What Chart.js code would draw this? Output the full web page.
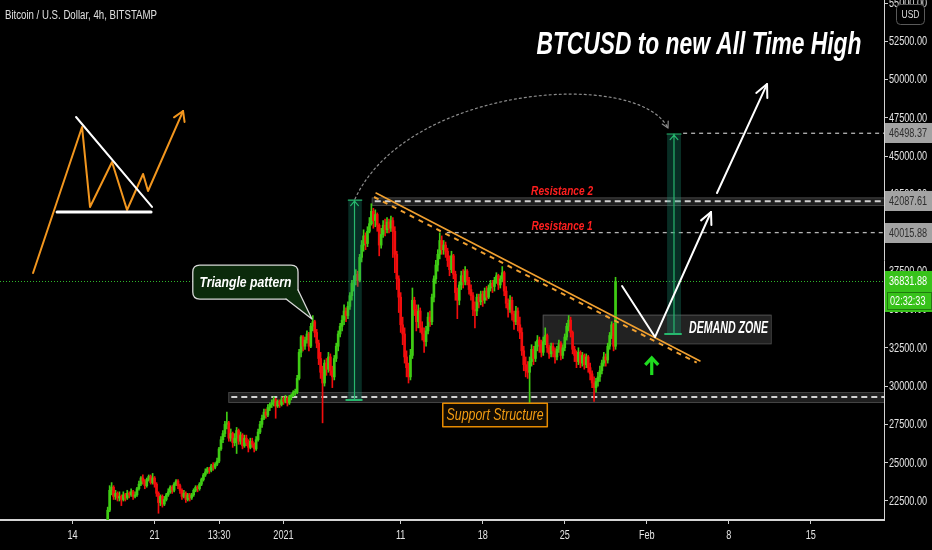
<!DOCTYPE html>
<html><head><meta charset="utf-8">
<script src="https://cdn.jsdelivr.net/npm/chart.js@4/dist/chart.umd.min.js"></script>
<style>html,body{margin:0;padding:0;background:#000;overflow:hidden}#wrap{width:932px;height:550px}</style>
</head><body><div id="wrap"><canvas id="c" width="932" height="550"></canvas></div>
<script>
// ---------- DATA (prices in thousands of USD, 4h candles from 2020-12-17 00:00) ----------
const firstCandleDay = 3;      // days after 2020-12-14 00:00
const candleHours = 4;
const firstOpen = 21.0;
const closeK = [
21.9,23.2,23.4,22.8,23.0,22.7, 22.8,22.6,22.9,22.7,23.0,22.9, 23.1,22.8,22.9,23.3,23.6,24.0,
23.8,23.5,23.9,24.1,23.7,24.0, 23.6,23.0,22.4,22.8,22.3,22.6, 22.9,23.1,23.4,23.2,23.6,23.8,
23.5,23.2,22.8,23.0,22.6,22.9, 22.7,22.9,23.2,23.4,23.3,23.6, 23.9,24.2,24.4,24.6,24.5,24.8,
24.7,24.9,25.1,25.9,26.5,26.9, 27.5,27.6,26.6,26.9,26.3,26.6, 27.1,26.4,26.8,26.1,26.6,26.3,
26.0,26.4,26.2,25.9,26.5,27.0, 27.5,27.9,28.3,28.1,28.6,28.8, 28.9,29.1,28.7,29.0,28.8,29.1,
29.0,29.2,28.9,29.3,29.4,29.6, 29.6,30.5,32.2,33.2,32.6,33.0, 33.4,32.6,33.9,34.2,33.5,32.8,
31.8,30.9,30.2,31.5,31.1,31.9, 31.0,30.6,31.8,32.6,33.4,33.9, 34.3,34.9,34.6,35.2,35.9,36.7,
36.9,37.3,36.9,38.4,39.2,39.8, 39.3,40.1,40.6,41.4,40.8,41.2, 40.5,39.2,39.9,40.5,40.2,40.7,
40.3,40.8,40.1,38.6,37.0,35.8, 34.0,33.4,31.9,31.2,30.6,32.0, 35.6,35.0,34.2,34.9,33.8,33.4,
32.9,33.6,34.5,34.2,35.8,37.0, 37.9,38.6,39.5,38.9,39.2,38.8, 38.2,37.6,38.5,37.3,36.1,35.6,
36.6,37.2,36.8,37.5,36.9,36.3, 35.9,35.0,34.9,35.8,35.5,36.0, 35.6,36.2,35.8,36.4,36.7,36.5,
36.9,37.2,36.6,37.0,37.4,36.2, 35.4,35.0,35.6,34.7,34.2,34.9, 34.0,33.5,32.3,31.4,31.0,30.9,
31.6,32.4,31.8,32.6,33.0,32.7, 32.2,32.9,33.3,32.5,32.1,32.6, 32.3,31.9,32.4,32.8,32.0,32.5,
33.2,33.9,34.3,33.5,32.4,32.0, 31.6,32.2,31.5,32.0,31.4,31.9, 31.2,30.8,30.2,29.9,30.3,30.6,
31.0,31.5,31.9,31.7,32.6,33.3, 34.0,32.6,36.83188];
const highK = [
22.1,23.5,23.7,23.5,23.2,23.1, 23.1,22.9,23.1,23.0,23.2,23.1, 23.3,23.2,23.1,23.4,23.8,24.1,
24.2,23.9,24.0,24.2,24.2,24.3, 24.1,23.7,23.1,22.9,22.9,22.8, 23.0,23.3,23.5,23.5,23.7,23.9,
23.9,23.6,23.3,23.2,23.1,23.0, 23.0,23.0,23.3,23.5,23.5,23.7, 24.0,24.3,24.6,24.7,24.7,24.9,
25.0,25.0,25.3,26.0,26.7,27.1, 27.7,28.3,27.7,27.2,27.0,26.9, 27.3,27.2,27.0,26.9,26.8,26.8,
26.5,26.6,26.6,26.3,26.7,27.2, 27.7,28.1,28.5,28.5,28.8,28.9, 29.1,29.3,29.2,29.1,29.1,29.3,
29.3,29.4,29.3,29.4,29.5,29.7, 29.8,30.7,32.4,33.3,33.3,33.2, 33.6,33.5,34.1,34.6,34.3,33.7,
33.0,32.2,31.3,31.7,31.8,32.2, 32.1,31.3,32.0,32.8,33.6,34.1, 34.6,35.3,35.1,35.5,36.1,36.9,
37.2,37.6,37.5,38.6,39.5,40.2, 40.0,40.4,41.0,41.9,41.6,41.5, 41.3,40.6,40.3,40.8,40.9,41.0,
40.9,41.1,41.0,40.4,38.8,37.2, 36.1,34.5,33.8,32.3,31.5,32.4, 36.4,35.8,35.3,35.3,35.1,34.2,
33.8,33.9,34.8,34.9,36.0,37.2, 38.2,38.9,40.0,39.8,39.5,39.4, 39.0,38.5,38.8,38.6,37.5,36.4,
36.8,37.5,37.6,37.8,37.6,37.1, 36.6,36.1,35.5,36.0,36.0,36.2, 36.2,36.4,36.5,36.6,36.9,36.9,
37.1,37.4,37.3,37.2,37.8,37.5, 36.5,35.7,35.9,35.8,34.9,35.2, 35.1,34.5,33.8,32.6,31.9,31.6,
31.9,32.7,32.6,32.9,33.3,33.2, 33.0,33.2,33.8,33.4,32.7,32.8, 32.8,32.5,32.6,33.0,32.9,32.7,
33.4,34.1,34.6,34.5,33.6,32.6, 32.3,32.5,32.3,32.2,32.1,32.1, 32.0,31.5,31.0,30.6,30.5,30.9,
31.3,31.7,32.2,32.1,32.8,33.5, 34.2,34.1,37.1];
const lowK = [
21.0,21.8,22.9,22.6,22.6,22.5, 22.5,22.2,22.5,22.5,22.6,22.7, 22.8,22.6,22.7,22.8,23.2,23.5,
23.6,23.3,23.4,23.8,23.6,23.6, 23.4,22.8,21.7,22.2,22.1,22.2, 22.5,22.8,23.0,23.0,23.1,23.5,
23.3,23.0,22.6,22.7,22.4,22.5, 22.5,22.6,22.8,23.1,23.1,23.2, 23.5,23.8,24.1,24.3,24.3,24.4,
24.5,24.6,24.8,25.0,25.8,26.3, 26.7,27.2,26.4,26.4,26.0,26.1, 25.6,26.2,26.2,25.9,26.0,26.1,
25.7,25.9,26.0,25.7,25.8,26.4, 26.9,27.3,27.8,27.9,28.0,28.4, 28.6,28.7,27.9,28.6,28.6,28.7,
28.8,28.9,28.7,28.8,29.1,29.3, 29.4,29.5,30.4,31.9,32.3,32.4, 32.8,32.3,32.5,33.6,33.2,32.5,
31.4,30.5,27.6,30.0,30.7,30.9, 30.7,29.9,30.4,31.6,32.3,33.2, 33.6,34.0,34.2,34.4,35.0,35.6,
36.2,36.6,36.5,36.8,38.1,38.8, 38.9,39.1,40.0,40.5,40.3,40.4, 40.1,38.5,39.0,39.7,39.8,40.0,
40.0,40.1,38.4,37.4,36.3,34.8, 33.5,32.7,31.5,30.6,30.2,30.4, 31.8,34.6,33.6,33.8,33.5,33.0,
32.2,32.6,33.4,33.9,34.0,35.5, 36.7,37.5,38.3,38.6,38.6,38.4, 37.8,37.2,37.4,37.0,35.6,34.4,
35.3,36.3,36.4,36.6,36.6,36.0, 35.6,34.6,33.8,34.6,35.1,35.3, 35.2,35.4,35.6,35.7,36.2,36.1,
36.2,36.7,36.3,36.4,36.8,35.9, 35.1,34.5,34.8,34.3,33.7,34.0, 33.6,33.1,32.0,31.0,30.6,30.5,
28.8,31.3,31.4,31.6,32.3,32.2, 31.9,32.0,32.7,32.2,31.8,31.9, 31.9,31.5,31.7,32.2,31.7,31.8,
32.3,33.0,33.6,33.2,32.1,31.6, 31.2,31.4,31.2,31.3,31.1,31.2, 30.9,30.4,29.9,29.0,29.6,30.0,
30.3,30.8,31.3,31.3,31.5,32.4, 33.1,32.3,32.4];

// axis ticks
const xTickDays   = [0, 7, 12.5, 18, 28, 35, 42, 49, 56, 63];
const xTickLabels = ['14','21','13:30','2021','11','18','25','Feb','8','15'];
const yTickValues = [22500,25000,27500,30000,32500,35000,37500,40000,42500,45000,47500,50000,52500,55000];

// price levels shown on the axis
const lastPrice = 36831.88;
const levelTarget = 46498.37, levelRes2 = 42087.61, levelRes1 = 40015.88;

// ---------- build candles ----------
const openK = closeK.map((c,i)=> i===0 ? firstOpen : closeK[i-1]);
const candleDay = closeK.map((c,i)=> firstCandleDay + i*candleHours/24);
const UP='#3fcc14', DN='#f20d0d';
const colors = closeK.map((c,i)=> c>=openK[i] ? UP : DN);
const wickData = closeK.map((c,i)=>({x:candleDay[i], y:[Math.min(lowK[i],openK[i],c)*1000, Math.max(highK[i],openK[i],c)*1000]}));
const bodyData = closeK.map((c,i)=>({x:candleDay[i], y:[openK[i]*1000, c*1000]}));

// ---------- annotation anchors (x: days after Dec 14, y: price in k) ----------
const insetZig = [[-3.37,37.38],[0.81,46.91],[1.49,41.69],[3.37,44.62],[4.65,41.49],[6.02,43.84],[6.44,42.73],[9.43,47.95]];
const insetDiag = [[0.30,47.56],[6.78,41.69]];
const insetBase = [[-1.32,41.36],[6.70,41.36]];
const trendSolid = [[25.90,42.60],[53.54,31.64]];
const trendDash  = [[25.73,42.34],[53.26,31.53]];
const supportZone = {d0:13.29, top:29.61, bot:28.96};
const res2Zone = {d0:25.53, top:42.31, bot:41.82};
const res1Start = 31.93, targetStart = 52.1;
const demandZone = {d0:40.12, d1:59.57, top:34.66, bot:32.79};
const measure1 = {d0:23.53, d1:24.68, dc:24.06, top:42.14, bot:29.09};
const measure2 = {d0:50.73, d1:51.92, dc:51.32, top:46.45, bot:33.40};
const arc = [[24.10,42.21],[28.6,49.65],[48.2,50.75],[50.81,46.84]];
const vPath = [[46.89,36.53],[49.70,33.20],[54.48,41.36]];
const athArrow = [[54.99,42.60],[59.26,49.71]];
const greenArrow = {d:49.42, tip:31.90, tail:30.72};
const calloutBox = {d0:10.26, d1:19.24, top:37.90, bot:35.68, tipD:20.43, tipP:34.38};
const supportLabel = {d0:31.59, d1:40.51, top:28.88, bot:27.35};

const FONT = '"Liberation Sans Narrow","Liberation Sans",Arial,sans-serif';
Chart.defaults.font.family = FONT;

function arrowHead(ctx, x0,y0,x1,y1,len,ang){
  const a=Math.atan2(y1-y0,x1-x0);
  ctx.beginPath();
  ctx.moveTo(x1-len*Math.cos(a-ang), y1-len*Math.sin(a-ang));
  ctx.lineTo(x1,y1);
  ctx.lineTo(x1-len*Math.cos(a+ang), y1-len*Math.sin(a+ang));
  ctx.stroke();
}
function rrect(ctx,x,y,w,h,r){
  ctx.beginPath();ctx.moveTo(x+r,y);ctx.lineTo(x+w-r,y);ctx.quadraticCurveTo(x+w,y,x+w,y+r);
  ctx.lineTo(x+w,y+h-r);ctx.quadraticCurveTo(x+w,y+h,x+w-r,y+h);ctx.lineTo(x+r,y+h);
  ctx.quadraticCurveTo(x,y+h,x,y+h-r);ctx.lineTo(x,y+r);ctx.quadraticCurveTo(x,y,x+r,y);ctx.closePath();
}
function fitText(ctx,txt,x,y,font,w,align){
  ctx.font=font; const m=ctx.measureText(txt).width; const s=w/m;
  ctx.save(); ctx.translate(x,y); ctx.scale(s,1); ctx.textAlign=align||'center'; ctx.fillText(txt,0,0); ctx.restore();
}
function narrowText(ctx,txt,x,y,font,s,align){
  ctx.font=font; ctx.save(); ctx.translate(x,y); ctx.scale(s,1); ctx.textAlign=align||'left'; ctx.fillText(txt,0,0); ctx.restore();
}

const bgPlugin = {id:'bg', beforeDraw(chart){const c=chart.ctx;c.save();c.fillStyle='#000';c.fillRect(0,0,chart.width,chart.height);c.restore();}};

const backAnn = {id:'backAnn', beforeDatasetsDraw(chart){
  const ctx=chart.ctx, sx=chart.scales.x, sy=chart.scales.y, ca=chart.chartArea;
  const X=d=>sx.getPixelForValue(d), Y=p=>sy.getPixelForValue(p*1000);
  ctx.save(); ctx.beginPath(); ctx.rect(ca.left,ca.top,ca.right-ca.left,ca.bottom-ca.top); ctx.clip();
  ctx.strokeStyle='#2fb52a'; ctx.lineWidth=1; ctx.setLineDash([1,2]);
  const yl=Math.round(sy.getPixelForValue(lastPrice))+0.5;
  ctx.beginPath(); ctx.moveTo(ca.left,yl); ctx.lineTo(ca.right,yl); ctx.stroke();
  ctx.setLineDash([]);
  function zone(z){
    const x0=X(z.d0), y0=Y(z.top), y1=Y(z.bot);
    ctx.fillStyle='#1f1f1f'; ctx.fillRect(x0,y0,ca.right-x0,y1-y0);
    ctx.strokeStyle='#444'; ctx.lineWidth=1; ctx.strokeRect(x0+0.5,y0+0.5,ca.right-x0,y1-y0);
    ctx.strokeStyle='#d0d0d0'; ctx.lineWidth=2; ctx.setLineDash([6,4]);
    const ym=(y0+y1)/2; ctx.beginPath(); ctx.moveTo(x0+3,ym); ctx.lineTo(ca.right,ym); ctx.stroke(); ctx.setLineDash([]);
  }
  zone(supportZone); zone(res2Zone);
  ctx.strokeStyle='#b5b5b5'; ctx.lineWidth=1.3; ctx.setLineDash([4,4]);
  let y=Y(levelRes1/1000); ctx.beginPath(); ctx.moveTo(X(res1Start),y); ctx.lineTo(ca.right,y); ctx.stroke();
  y=Y(levelTarget/1000); ctx.beginPath(); ctx.moveTo(X(targetStart),y); ctx.lineTo(ca.right,y); ctx.stroke();
  ctx.setLineDash([]);
  const dx0=X(demandZone.d0), dx1=X(demandZone.d1), dy0=Y(demandZone.top), dy1=Y(demandZone.bot);
  ctx.fillStyle='rgba(40,40,40,0.85)'; ctx.fillRect(dx0,dy0,dx1-dx0,dy1-dy0);
  ctx.strokeStyle='#4d4d4d'; ctx.lineWidth=1; ctx.strokeRect(dx0+0.5,dy0+0.5,dx1-dx0,dy1-dy0);
  ctx.restore();
}};

const frontAnn = {id:'frontAnn', afterDatasetsDraw(chart){
  const ctx=chart.ctx, sx=chart.scales.x, sy=chart.scales.y, ca=chart.chartArea;
  const X=d=>sx.getPixelForValue(d), Y=p=>sy.getPixelForValue(p*1000);
  const P=pt=>[X(pt[0]),Y(pt[1])];
  ctx.save(); ctx.beginPath(); ctx.rect(ca.left,ca.top,ca.right-ca.left,ca.bottom-ca.top); ctx.clip();
  ctx.lineCap='round'; ctx.lineJoin='round';
  [measure1, measure2].forEach(m=>{
    const x0=X(m.d0), x1=X(m.d1), xc=X(m.dc), y0=Y(m.top), y1=Y(m.bot);
    ctx.fillStyle='rgba(25,150,120,0.30)'; ctx.fillRect(x0,y0,x1-x0,y1-y0);
    ctx.strokeStyle='#27b86e'; ctx.lineWidth=1.2;
    ctx.beginPath(); ctx.moveTo(xc,y1); ctx.lineTo(xc,y0); ctx.stroke();
    ctx.beginPath(); ctx.moveTo(x0,y0); ctx.lineTo(x1,y0); ctx.stroke();
    ctx.lineWidth=2; ctx.beginPath(); ctx.moveTo(x0-2,y1); ctx.lineTo(x1,y1); ctx.stroke();
    ctx.lineWidth=1.2; arrowHead(ctx,xc,y0+20,xc,y0+1,6,0.7);
  });
  const a0=P(arc[0]),a1=P(arc[1]),a2=P(arc[2]),a3=P(arc[3]);
  ctx.strokeStyle='#8c8c8c'; ctx.lineWidth=1.2; ctx.setLineDash([2,3]);
  ctx.beginPath(); ctx.moveTo(...a0); ctx.bezierCurveTo(...a1,...a2,...a3); ctx.stroke(); ctx.setLineDash([]);
  arrowHead(ctx,a2[0],a2[1],a3[0],a3[1],7,0.5);
  ctx.strokeStyle='#f0a030'; ctx.lineWidth=1.6;
  let s0=P(trendSolid[0]), s1=P(trendSolid[1]);
  ctx.beginPath(); ctx.moveTo(...s0); ctx.lineTo(...s1); ctx.stroke();
  ctx.lineWidth=2; ctx.setLineDash([5,5]); ctx.lineCap='butt';
  s0=P(trendDash[0]); s1=P(trendDash[1]);
  ctx.beginPath(); ctx.moveTo(...s0); ctx.lineTo(...s1); ctx.stroke(); ctx.setLineDash([]); ctx.lineCap='round';
  ctx.strokeStyle='#f2961e'; ctx.lineWidth=2;
  ctx.beginPath(); insetZig.forEach((pt,i)=>{const q=P(pt); i?ctx.lineTo(...q):ctx.moveTo(...q);}); ctx.stroke();
  const z1=P(insetZig[insetZig.length-2]), z2=P(insetZig[insetZig.length-1]);
  arrowHead(ctx,z1[0],z1[1],z2[0],z2[1],11,0.55);
  ctx.strokeStyle='#ffffff'; ctx.lineWidth=2;
  let q0=P(insetDiag[0]), q1=P(insetDiag[1]); ctx.beginPath(); ctx.moveTo(...q0); ctx.lineTo(...q1); ctx.stroke();
  ctx.lineWidth=3; q0=P(insetBase[0]); q1=P(insetBase[1]); ctx.beginPath(); ctx.moveTo(...q0); ctx.lineTo(...q1); ctx.stroke();
  ctx.strokeStyle='#ffffff'; ctx.lineWidth=2;
  const v=vPath.map(P);
  ctx.beginPath(); ctx.moveTo(...v[0]); ctx.lineTo(...v[1]); ctx.lineTo(...v[2]); ctx.stroke();
  arrowHead(ctx,v[1][0],v[1][1],v[2][0],v[2][1],13,0.45);
  const w0=P(athArrow[0]), w1=P(athArrow[1]);
  ctx.beginPath(); ctx.moveTo(...w0); ctx.lineTo(...w1); ctx.stroke();
  arrowHead(ctx,w0[0],w0[1],w1[0],w1[1],14,0.45);
  ctx.strokeStyle='#1fdc1f'; ctx.lineWidth=3.2; ctx.lineCap='butt'; ctx.lineJoin='miter';
  const gx=X(greenArrow.d), gt=Y(greenArrow.tip), gb=Y(greenArrow.tail);
  ctx.beginPath(); ctx.moveTo(gx,gb); ctx.lineTo(gx,gt+2); ctx.stroke();
  ctx.beginPath(); ctx.moveTo(gx-6.5,gt+8); ctx.lineTo(gx,gt+1); ctx.lineTo(gx+6.5,gt+8); ctx.stroke();
  ctx.lineCap='round'; ctx.lineJoin='round';
  const bx0=X(calloutBox.d0), bx1=X(calloutBox.d1), by0=Y(calloutBox.top), by1=Y(calloutBox.bot);
  const tx=X(calloutBox.tipD), ty=Y(calloutBox.tipP);
  ctx.fillStyle='#0b2a0b'; ctx.strokeStyle='#d8d8d8'; ctx.lineWidth=1.3;
  rrect(ctx,bx0,by0,bx1-bx0,by1-by0,7); ctx.fill(); ctx.stroke();
  ctx.beginPath(); ctx.moveTo(bx1-12,by1-0.5); ctx.lineTo(tx,ty); ctx.lineTo(bx1-0.6,by1-9); ctx.closePath(); ctx.fill();
  ctx.beginPath(); ctx.moveTo(bx1-12,by1); ctx.lineTo(tx,ty); ctx.lineTo(bx1,by1-9); ctx.stroke();
  ctx.textBaseline='middle';
  ctx.fillStyle='#ffffff';
  fitText(ctx,'Triangle pattern',(bx0+bx1)/2,(by0+by1)/2+0.5,'bold italic 15px '+FONT,92);
  const lx0=X(supportLabel.d0), lx1=X(supportLabel.d1), ly0=Y(supportLabel.top), ly1=Y(supportLabel.bot);
  ctx.fillStyle='#120b02'; ctx.fillRect(lx0,ly0,lx1-lx0,ly1-ly0);
  ctx.strokeStyle='#e68a00'; ctx.lineWidth=1.5; ctx.strokeRect(lx0,ly0,lx1-lx0,ly1-ly0);
  ctx.fillStyle='#f39c12';
  fitText(ctx,'Support Structure',(lx0+lx1)/2,(ly0+ly1)/2+1,'italic 16px '+FONT,97);
  ctx.fillStyle='#ffffff';
  fitText(ctx,'DEMAND ZONE',X(55.97),Y(33.72),'bold italic 16px '+FONT,79);
  ctx.fillStyle='#ff1f1f';
  fitText(ctx,'Resistance 2',X(41.77),Y(42.73),'bold italic 13px '+FONT,62);
  fitText(ctx,'Resistance 1',X(41.77),Y(40.45),'bold italic 13px '+FONT,61);
  ctx.fillStyle='#ffffff';
  fitText(ctx,'BTCUSD to new All Time High',X(53.45),Y(52.26),'bold italic 31px '+FONT,325);
  ctx.restore();
}};

const axisLabels = {id:'axisLabels', afterDraw(chart){
  const ctx=chart.ctx, sx=chart.scales.x, sy=chart.scales.y, ca=chart.chartArea;
  ctx.save();
  ctx.textBaseline='middle';
  const tf='12px '+FONT, SQ=0.76;
  ctx.fillStyle='#e4e4e4';
  yTickValues.forEach(v=>{ narrowText(ctx,v.toFixed(2),ca.right+5,sy.getPixelForValue(v)+0.5,tf,SQ,'left'); });
  xTickDays.forEach((d,i)=>{ narrowText(ctx,xTickLabels[i],sx.getPixelForValue(d),ca.bottom+16,tf,SQ,'center'); });
  function tag(val,bg,fg,txt){
    const y=Math.round(sy.getPixelForValue(val));
    ctx.fillStyle=bg; ctx.fillRect(ca.right+1,y-10,48,20);
    ctx.fillStyle=fg; narrowText(ctx,txt,ca.right+5,y+0.5,tf,SQ,'left');
    return y;
  }
  tag(levelTarget,'#a3a3a3','#2e2e2e',levelTarget.toFixed(2));
  tag(levelRes2,'#a3a3a3','#2e2e2e',levelRes2.toFixed(2));
  tag(levelRes1,'#a3a3a3','#2e2e2e',levelRes1.toFixed(2));
  const yl=tag(lastPrice,'#37c21a','#ffffff',lastPrice.toFixed(2));
  ctx.fillStyle='#37c21a'; ctx.fillRect(ca.right+1,yl+10,48,21);
  ctx.strokeStyle='#1f7a0e'; ctx.lineWidth=1; ctx.strokeRect(ca.right+3.5,yl+11.5,44,17);
  ctx.fillStyle='#ffffff'; narrowText(ctx,'02:32:33',ca.right+6,yl+20.5,tf,SQ,'left');
  ctx.strokeStyle='#5a5a5a'; ctx.lineWidth=1; rrect(ctx,896.5,4.5,28,20,4); ctx.fillStyle='#000'; ctx.fill(); ctx.stroke();
  ctx.fillStyle='#dcdcdc'; narrowText(ctx,'USD',910.5,15,'10px '+FONT,0.85,'center');
  ctx.fillStyle='#e0e0e0'; fitText(ctx,'Bitcoin / U.S. Dollar, 4h, BITSTAMP',5,16,'12px '+FONT,152,'left');
  ctx.restore();
}};

new Chart(document.getElementById('c'), {
  type:'bar',
  data:{datasets:[
    {label:'wick', data:wickData, backgroundColor:colors, barThickness:1, grouped:false, order:2},
    {label:'body', data:bodyData, backgroundColor:colors, barThickness:2, minBarLength:1, grouped:false, order:1}
  ]},
  options:{
    responsive:false, animation:false, devicePixelRatio:1,
    layout:{padding:0},
    plugins:{legend:{display:false}, tooltip:{enabled:false}},
    scales:{
      x:{type:'linear', min:-6.19, max:69.24, offset:false,
        grid:{offset:false, drawOnChartArea:false, drawTicks:true, tickLength:4, color:'#cfcfcf'},
        border:{display:true, color:'#d4d4d4', width:2},
        afterBuildTicks:s=>{s.ticks=xTickDays.map(v=>({value:v}));},
        afterFit:s=>{s.height=30;},
        ticks:{display:false}
      },
      y:{type:'linear', position:'right', min:21260, max:55196,
        grid:{drawOnChartArea:false, drawTicks:true, tickLength:4, color:'#cfcfcf'},
        border:{display:true, color:'#d4d4d4', width:1},
        afterBuildTicks:s=>{s.ticks=yTickValues.map(v=>({value:v}));},
        afterFit:s=>{s.width=48;},
        ticks:{display:false}
      }
    }
  },
  plugins:[bgPlugin, backAnn, frontAnn, axisLabels]
});
</script>
</body></html>
